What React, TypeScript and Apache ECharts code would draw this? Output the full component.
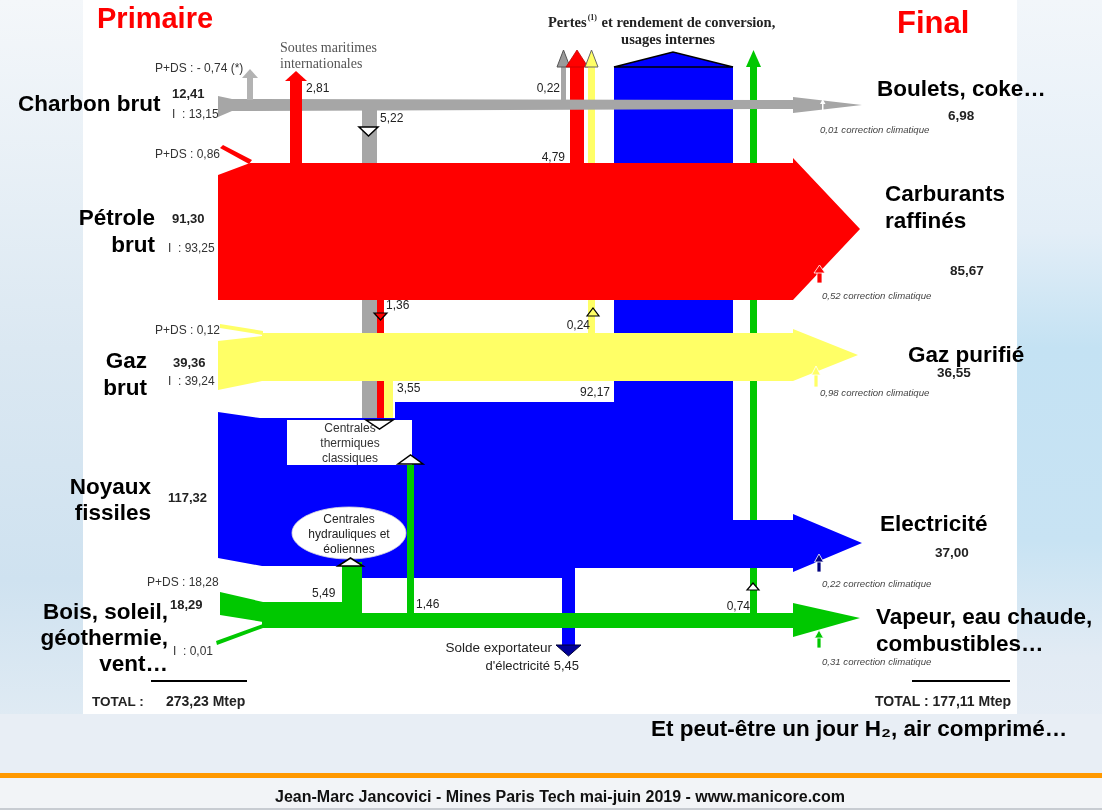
import React, { useEffect, useRef } from "react";
import * as echarts from "echarts";

// ---------------- DATA (Mtep) ----------------
const primaryLabels = ["Charbon brut", "Pétrole\nbrut", "Gaz\nbrut", "Noyaux\nfissiles", "Bois, soleil,\ngéothermie,\nvent…"];
const primaryValues = [12.41, 91.3, 39.36, 117.32, 18.29];
const importValues: (number | null)[] = [13.15, 93.25, 39.24, null, 0.01];
const pdsValues: (number | null)[] = [-0.74, 0.86, 0.12, null, 18.28];
const finalLabels = ["Boulets, coke…", "Carburants\nraffinés", "Gaz purifié", "Electricité", "Vapeur, eau chaude,\ncombustibles…"];
const finalValues: (number | null)[] = [6.98, 85.67, 36.55, 37.0, null];
const climateCorrections = [0.01, 0.52, 0.98, 0.22, 0.31];
const lossValues = [0.22, 4.79, 0.24, 92.17, 0.74]; // charbon, pétrole, gaz, électricité, bois
const thermalInputValues = [5.22, 1.36, 3.55, 1.46]; // charbon, pétrole, gaz, bois -> centrales thermiques
const bunkerValue = 2.81;
const hydroValue = 5.49;
const exportValue = 5.45;
const totalValues = [273.23, 177.11];

// ---------------- helpers ----------------
const fr = (v: number) => v.toFixed(2).replace(".", ",");
const SANS = "'Liberation Sans', Arial, Helvetica, sans-serif";
const SERIF = "'Liberation Serif', 'Times New Roman', serif";

const C_GRAY = "#a6a6a6";
const C_RED = "#ff0000";
const C_YEL = "#ffff66";
const C_BLUE = "#0000ff";
const C_GREEN = "#00c800";

type Shape = {
  kind?: "poly" | "ellipse" | "line";
  pts?: number[][];
  fill?: string;
  stroke?: string;
  lw?: number;
  cx?: number; cy?: number; rx?: number; ry?: number;
};

const rect = (x0: number, y0: number, x1: number, y1: number, fill: string, stroke?: string, lw?: number): Shape => ({
  pts: [[x0, y0], [x1, y0], [x1, y1], [x0, y1]], fill, stroke, lw,
});
const poly = (pts: number[][], fill: string, stroke?: string, lw?: number): Shape => ({ pts, fill, stroke, lw });

// Layout of the diagram (diagram units of the hidden 1102 x 810 grid)
const SHAPES: Shape[] = [
  // --- under the bands ---
  rect(362, 108, 377, 420, C_GRAY),           // charbon -> centrales
  rect(377, 298, 384, 420, C_RED),            // pétrole -> centrales
  rect(384, 380, 393, 420, C_YEL),            // gaz -> centrales
  rect(561, 66, 566, 100, C_GRAY),            // pertes charbon
  poly([[557, 67], [563.5, 50], [570, 67]], "#9a9a9a", "#555", 1),
  rect(570, 66, 584, 163, C_RED),             // pertes pétrole
  poly([[566, 67], [577, 50], [588, 67]], C_RED, "#c00000", 0.8),
  rect(588, 66, 595, 333, C_YEL),             // pertes gaz
  poly([[585, 67], [591.5, 50], [598, 67]], C_YEL, "#666", 1),
  rect(614, 66, 733, 402, C_BLUE),            // pertes électricité (colonne)
  poly([[614, 67], [673, 52], [733, 67]], C_BLUE, "#000", 1.5),
  rect(750, 66, 757, 615, C_GREEN),           // pertes bois
  poly([[746, 67], [753.5, 50], [761, 67]], C_GREEN),
  // blue lower body
  poly([[218, 412], [260, 418], [395, 418], [395, 402], [733, 402], [733, 520], [793, 520], [793, 514], [862, 543],
        [793, 572], [793, 568], [568, 568], [568, 578], [362, 578], [362, 566], [262, 566], [218, 558]], C_BLUE),
  rect(562, 566, 575, 646, C_BLUE),           // solde exportateur
  poly([[556, 645], [581, 645], [568.5, 656]], "#000099", "#000033", 1),
  // --- main bands ---
  poly([[218, 175], [250, 163], [793, 163], [793, 158], [860, 229], [793, 300], [218, 300]], C_RED),
  poly([[220, 148], [223, 145], [252, 160], [249, 164]], C_RED),
  poly([[218, 341], [262, 336], [262, 333], [793, 333], [793, 329], [858, 355], [793, 381], [262, 381], [218, 390]], C_YEL),
  poly([[220, 324], [263, 331], [263, 335], [220, 328]], C_YEL),
  poly([[220, 592], [263, 602], [263, 622], [220, 615]], C_GREEN),
  poly([[216, 641], [263, 624], [263, 628], [217, 645]], C_GREEN),
  rect(262, 602, 362, 628, C_GREEN),
  rect(262, 613, 794, 628, C_GREEN),
  poly([[793, 603], [860, 618], [793, 637]], C_GREEN),
  rect(342, 562, 362, 603, C_GREEN),          // hydraulique
  rect(407, 463, 414, 614, C_GREEN),          // bois -> centrales
  // --- charbon band on top ---
  poly([[218, 96], [232, 99], [793, 100], [793, 97], [862, 105], [793, 113], [793, 109], [232, 111], [218, 117]], C_GRAY),
  rect(247, 77, 253, 100, "#b3b3b3"),
  poly([[242, 78], [250, 69], [258, 78]], "#b3b3b3"),
  rect(290, 80, 302, 163, C_RED),             // soutes
  poly([[285, 81], [296, 71], [307, 81]], C_RED),
  // --- boxes ---
  rect(287, 420, 412, 465, "#ffffff"),
  { kind: "ellipse", cx: 349, cy: 533, rx: 57, ry: 26, fill: "#ffffff", stroke: "#dddddd", lw: 0.8 },
  // --- markers ---
  poly([[359, 127], [378, 127], [368.5, 136]], "#ffffff", "#000", 1.5),
  poly([[374, 313], [387, 313], [380.5, 320]], C_RED, "#000", 1.2),
  poly([[366, 420], [393, 420], [379.5, 429]], "#ffffff", "#000", 1.5),
  poly([[398, 464], [423, 464], [410.5, 455]], "#ffffff", "#000", 1.5),
  poly([[587, 316], [599, 316], [593, 308]], C_YEL, "#000", 1.2),
  poly([[338, 566], [363, 566], [350.5, 558]], "#ffffff", "#000", 1.5),
  poly([[747, 590], [759, 590], [753, 583]], "#ffffff", "#000", 1.2),
  // --- climate correction arrows ---
  rect(822, 102, 823.5, 110, "#ffffff"),
  poly([[820, 104], [822.7, 99], [825.5, 104]], "#ffffff"),
  rect(817, 272, 822, 283, C_RED, "#ffffff", 0.8),
  poly([[814, 273], [819.5, 265], [825, 273]], C_RED, "#ffffff", 0.8),
  rect(814, 374, 818, 387, C_YEL, "#ffffff", 0.8),
  poly([[811.5, 375], [816, 366], [820.5, 375]], C_YEL, "#ffffff", 0.8),
  rect(817, 561, 821, 572, "#000080", "#ffffff", 0.8),
  poly([[814.5, 562], [819, 554], [823.5, 562]], "#000080", "#ffffff", 0.8),
  rect(817, 637, 821, 648, C_GREEN, "#ffffff", 0.8),
  poly([[814.5, 638], [819, 630], [823.5, 638]], C_GREEN, "#ffffff", 0.8),
  // --- total lines ---
  { kind: "line", pts: [[151, 681], [247, 681]], stroke: "#000", lw: 2 },
  { kind: "line", pts: [[912, 681], [1010, 681]], stroke: "#000", lw: 2 },
];

type T = { x: number; y: number; t: string; size?: number; bold?: boolean; italic?: boolean; color?: string; align?: string; family?: string; rich?: any };

const BIG = 22.5;

function buildTexts(): T[] {
  const out: T[] = [];
  const small = "#333";
  // titles
  out.push({ x: 97, y: 18, t: "Primaire", size: 29, bold: true, color: "#ff0000" });
  out.push({ x: 897, y: 22, t: "Final", size: 31, bold: true, color: "#ff0000" });
  out.push({
    x: 548, y: 22, t: "Pertes{sup|(1)} et rendement de conversion,", size: 14.5, bold: true, color: "#222", family: SERIF,
    rich: { sup: { fontSize: 8, fontWeight: "bold", fontFamily: SERIF, fill: "#222", verticalAlign: "top", lineHeight: 17, padding: [0, 1, 6, 1] } },
  });
  out.push({ x: 668, y: 39, t: "usages internes", size: 14.5, bold: true, color: "#222", family: SERIF, align: "center" });
  out.push({ x: 280, y: 47, t: "Soutes maritimes", size: 14, color: "#555", family: SERIF });
  out.push({ x: 280, y: 63, t: "internationales", size: 14, color: "#555", family: SERIF });

  // primary labels
  const primPos = [
    { x: 18, y: [103], align: "left" },
    { x: 155, y: [217, 244], align: "right" },
    { x: 147, y: [360, 387], align: "right" },
    { x: 151, y: [486, 512], align: "right" },
    { x: 168, y: [611, 637, 663], align: "right" },
  ];
  // primary values
  const valPos = [
    { pds: [155, 68], v: [172, 93], i: [172, 114] },
    { pds: [155, 154], v: [172, 218], i: [168, 248] },
    { pds: [155, 330], v: [173, 362], i: [168, 381] },
    { pds: [0, 0], v: [168, 497], i: [0, 0] },
    { pds: [147, 582], v: [170, 604], i: [173, 651] },
  ];
  primaryValues.forEach((v, k) => {
    const p = valPos[k];
    out.push({ x: p.v[0], y: p.v[1], t: fr(v), size: 13, bold: true, color: "#222" });
    const d = pdsValues[k];
    if (d !== null) out.push({ x: p.pds[0], y: p.pds[1], t: d < 0 ? `P+DS : - ${fr(-d)} (*)` : `P+DS : ${fr(d)}`, size: 12, color: small });
    const im = importValues[k];
    if (im !== null) out.push({ x: p.i[0], y: p.i[1], t: `I  : ${fr(im)}`, size: 12, color: small });
  });
  primaryLabels.forEach((lab, k) => {
    lab.split("\n").forEach((line, j) => {
      out.push({ x: primPos[k].x, y: primPos[k].y[j], t: line, size: BIG, bold: true, color: "#000", align: primPos[k].align });
    });
  });

  // final labels
  const finPos = [
    { x: 877, y: [88] }, { x: 885, y: [193, 220] }, { x: 908, y: [354] }, { x: 880, y: [523] }, { x: 876, y: [616, 643] },
  ];
  const finValPos = [[948, 115], [950, 270], [937, 372], [935, 552], [0, 0]];
  const corrPos = [[820, 129], [822, 295], [820, 392], [822, 583], [822, 661]];
  climateCorrections.forEach((c, k) => {
    out.push({ x: corrPos[k][0], y: corrPos[k][1], t: `${fr(c)} correction climatique`, size: 9.6, italic: true, color: "#444" });
  });
  finalValues.forEach((v, k) => {
    if (v !== null) out.push({ x: finValPos[k][0], y: finValPos[k][1], t: fr(v), size: 13.5, bold: true, color: "#222" });
  });
  finalLabels.forEach((lab, k) => {
    lab.split("\n").forEach((line, j) => {
      out.push({ x: finPos[k].x, y: finPos[k].y[j], t: line, size: BIG, bold: true, color: "#000" });
    });
  });

  // flow values
  const fs = 12;
  out.push({ x: 306, y: 88, t: fr(bunkerValue), size: fs, color: "#222" });
  out.push({ x: 380, y: 118, t: fr(thermalInputValues[0]), size: fs, color: "#222" });
  out.push({ x: 386, y: 305, t: fr(thermalInputValues[1]), size: fs, color: "#222" });
  out.push({ x: 397, y: 388, t: fr(thermalInputValues[2]), size: fs, color: "#222" });
  out.push({ x: 416, y: 604, t: fr(thermalInputValues[3]), size: fs, color: "#222" });
  out.push({ x: 560, y: 88, t: fr(lossValues[0]), size: fs, color: "#222", align: "right" });
  out.push({ x: 565, y: 157, t: fr(lossValues[1]), size: fs, color: "#222", align: "right" });
  out.push({ x: 590, y: 325, t: fr(lossValues[2]), size: fs, color: "#222", align: "right" });
  out.push({ x: 610, y: 392, t: fr(lossValues[3]), size: fs, color: "#222", align: "right" });
  out.push({ x: 750, y: 606, t: fr(lossValues[4]), size: fs, color: "#222", align: "right" });
  out.push({ x: 312, y: 593, t: fr(hydroValue), size: fs, color: "#222" });
  out.push({ x: 552, y: 647, t: "Solde exportateur", size: 13.5, color: "#222", align: "right" });
  out.push({ x: 579, y: 665, t: `d'électricité ${fr(exportValue)}`, size: 13, color: "#222", align: "right" });

  // boxes
  ["Centrales", "thermiques", "classiques"].forEach((l, j) => out.push({ x: 350, y: 428 + j * 15, t: l, size: 12, color: "#333", align: "center" }));
  ["Centrales", "hydrauliques et", "éoliennes"].forEach((l, j) => out.push({ x: 349, y: 519 + j * 15, t: l, size: 12, color: "#222", align: "center" }));

  // totals
  out.push({ x: 92, y: 701, t: "TOTAL :", size: 13.5, bold: true, color: "#222" });
  out.push({ x: 166, y: 701, t: `${fr(totalValues[0])} Mtep`, size: 14, bold: true, color: "#222" });
  out.push({ x: 875, y: 701, t: `TOTAL : ${fr(totalValues[1])} Mtep`, size: 14, bold: true, color: "#222" });

  out.push({ x: 651, y: 728, t: "Et peut-être un jour H₂, air comprimé…", size: BIG, bold: true, color: "#000" });
  out.push({ x: 560, y: 796, t: "Jean-Marc Jancovici - Mines Paris Tech mai-juin 2019 - www.manicore.com", size: 16, bold: true, color: "#111", align: "center" });
  return out;
}

export default function App() {
  const ref = useRef<HTMLDivElement>(null);
  useEffect(() => {
    if (!ref.current) return;
    const chart = echarts.init(ref.current, undefined, { renderer: "svg" });
    const LG = echarts.graphic.LinearGradient;

    const bg: any[] = [
      { type: "rect", z: 0, shape: { x: 0, y: 0, width: 1102, height: 810 }, style: { fill: "#e9f0f6" } },
      {
        type: "rect", z: 0, shape: { x: 0, y: 0, width: 83, height: 773 },
        style: { fill: new LG(0, 0, 0, 1, [{ offset: 0, color: "#f4f7fa" }, { offset: 0.45, color: "#dbe8f2" }, { offset: 0.75, color: "#cfe2f0" }, { offset: 1, color: "#e6eef5" }]) },
      },
      {
        type: "rect", z: 0, shape: { x: 1017, y: 0, width: 85, height: 773 },
        style: { fill: new LG(0, 0, 0, 1, [{ offset: 0, color: "#f2f6fa" }, { offset: 0.3, color: "#e3eef7" }, { offset: 0.45, color: "#c4e2f3" }, { offset: 0.7, color: "#c8e3f3" }, { offset: 0.85, color: "#e2ebf4" }, { offset: 1, color: "#e8eef5" }]) },
      },
      { type: "rect", z: 0, shape: { x: 0, y: 714, width: 1102, height: 59 }, style: { fill: "#e8eef5" } },
      { type: "rect", z: 0, shape: { x: 83, y: 0, width: 934, height: 714 }, style: { fill: "#ffffff" } },
      { type: "rect", z: 0, shape: { x: 0, y: 773, width: 1102, height: 5 }, style: { fill: "#ff9900" } },
      { type: "rect", z: 0, shape: { x: 0, y: 778, width: 1102, height: 30 }, style: { fill: "#f2f4f7" } },
      { type: "rect", z: 0, shape: { x: 0, y: 808, width: 1102, height: 2 }, style: { fill: "#c8ccd2" } },
    ];

    const texts = buildTexts().map((t) => {
      const style: any = {
        text: t.t,
        fill: t.color || "#000",
        font: `${t.italic ? "italic " : ""}${t.bold ? "bold " : ""}${t.size || 12}px ${t.family || SANS}`,
        textAlign: t.align || "left",
        align: t.align || "left",
        textVerticalAlign: "middle",
        verticalAlign: "middle",
      };
      if (t.rich) style.rich = t.rich;
      return { type: "text", z: 20, x: t.x, y: t.y, silent: true, style };
    });

    chart.setOption({
      animation: false,
      grid: { left: 0, right: 0, top: 0, bottom: 0 },
      xAxis: { type: "value", min: 0, max: 1102, show: false },
      yAxis: { type: "value", min: 0, max: 810, inverse: true, show: false },
      graphic: { elements: [...bg, ...texts] },
      series: [
        {
          type: "custom",
          coordinateSystem: "cartesian2d",
          z: 5,
          silent: true,
          clip: false,
          data: SHAPES.map(() => [0, 0]),
          renderItem: (params: any, api: any) => {
            const s = SHAPES[params.dataIndex];
            if (s.kind === "ellipse") {
              const c = api.coord([s.cx, s.cy]);
              const sz = api.size([s.rx, s.ry]);
              return {
                type: "ellipse", z2: params.dataIndex,
                shape: { cx: c[0], cy: c[1], rx: sz[0], ry: sz[1] },
                style: { fill: s.fill, stroke: s.stroke, lineWidth: s.lw || 0 },
              };
            }
            const points = (s.pts || []).map((p) => api.coord(p));
            if (s.kind === "line") {
              return { type: "polyline", z2: params.dataIndex, shape: { points }, style: { fill: null, stroke: s.stroke, lineWidth: s.lw || 1 } };
            }
            return {
              type: "polygon", z2: params.dataIndex,
              shape: { points },
              style: { fill: s.fill, stroke: s.stroke || null, lineWidth: s.lw || 0, lineJoin: "miter" },
            };
          },
        },
      ],
    });
    return () => chart.dispose();
  }, []);
  return <div ref={ref} style={{ position: "fixed", left: 0, top: 0, width: 1102, height: 810 }} />;
}
